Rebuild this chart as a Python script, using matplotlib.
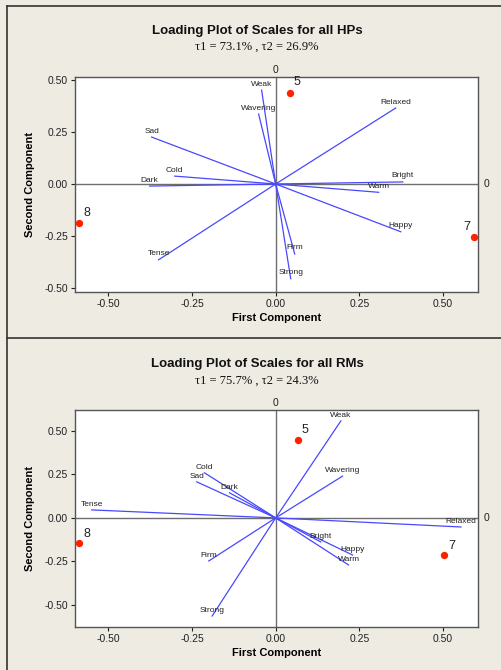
import matplotlib
matplotlib.use('Agg')
import matplotlib.pyplot as plt
from matplotlib.lines import Line2D

# scale names shared by both loading plots
scales = ['Weak', 'Wavering', 'Sad', 'Relaxed', 'Cold', 'Dark',
          'Bright', 'Warm', 'Happy', 'Tense', 'Firm', 'Strong']

# HPs loadings (first / second component)
hp_pc1 = [-0.042, -0.051, -0.371, 0.359, -0.302, -0.377,
          0.380, 0.308, 0.374, -0.350, 0.057, 0.045]
hp_pc2 = [0.452, 0.337, 0.226, 0.366, 0.038, -0.010,
          0.010, -0.040, -0.230, -0.365, -0.337, -0.456]

# RMs loadings
rm_pc1 = [0.195, 0.200, -0.236, 0.554, -0.213, -0.138,
          0.135, 0.218, 0.230, -0.550, -0.200, -0.190]
rm_pc2 = [0.557, 0.240, 0.207, -0.052, 0.259, 0.144,
          -0.138, -0.270, -0.213, 0.046, -0.247, -0.563]

# labelled observation points
point_labels = ['5', '8', '7']
hp_pt_x = [0.042, -0.587, 0.593]
hp_pt_y = [0.440, -0.190, -0.255]
rm_pt_x = [0.066, -0.587, 0.503]
rm_pt_y = [0.448, -0.144, -0.213]

titles = ['Loading Plot of Scales for all HPs', 'Loading Plot of Scales for all RMs']
subtitles = ['\u03c41 = 73.1% , \u03c42 = 26.9%', '\u03c41 = 75.7% , \u03c42 = 24.3%']
ticks = [-0.50, -0.25, 0.00, 0.25, 0.50]
tick_labels = ['-0.50', '-0.25', '0.00', '0.25', '0.50']

BG = '#eeebe3'
LINE_BLUE = '#4848ff'
DOT_RED = '#ff2200'
SANS = 'Liberation Sans'


def draw_panel(ax, pc1, pc2, pt_x, pt_y, ylim, label_side):
    ax.set_facecolor('white')
    ax.axhline(0, color='#6e6e6e', lw=1.0, zorder=1)
    ax.axvline(0, color='#6e6e6e', lw=1.0, zorder=1)

    for name, x, y in zip(scales, pc1, pc2):
        ax.plot([0, x], [0, y], color=LINE_BLUE, lw=0.9, zorder=2)
        ax.text(x, y + 0.012, name, ha='center', va='bottom', fontsize=6,
                family=SANS, color='#222222', zorder=3)

    ax.scatter(pt_x, pt_y, s=28, color=DOT_RED, zorder=4, linewidths=0)
    for lab, x, y, side in zip(point_labels, pt_x, pt_y, label_side):
        dx = 0.012 if side == 'r' else -0.012
        ax.text(x + dx, y + 0.02, lab, ha='left' if side == 'r' else 'right',
                va='bottom', fontsize=9, family=SANS, color='#222222', zorder=4)

    ax.set_xlim(-0.60, 0.605)
    ax.set_ylim(*ylim)
    ax.set_xticks(ticks)
    ax.set_xticklabels(tick_labels)
    ax.set_yticks(ticks)
    ax.set_yticklabels(tick_labels)
    ax.tick_params(labelsize=7.5, length=3, width=0.8, colors='#222222', pad=2)
    for lab in ax.get_xticklabels() + ax.get_yticklabels():
        lab.set_family(SANS)
    for sp in ax.spines.values():
        sp.set_color('#555555')
        sp.set_linewidth(1.0)
    ax.set_xlabel('First Component', fontsize=8, fontweight='bold', family=SANS, labelpad=3)
    ax.set_ylabel('Second Component', fontsize=8, fontweight='bold', family=SANS, labelpad=7)

    # reference line labels
    ax.text(0, 1.01, '0', transform=ax.get_xaxis_transform(), ha='center', va='bottom',
            fontsize=7.5, family=SANS, color='#222222')
    ax.text(1.015, 0, '0', transform=ax.get_yaxis_transform(), ha='left', va='center',
            fontsize=7.5, family=SANS, color='#222222')


fig = plt.figure(figsize=(5.02, 6.70), dpi=100, facecolor=BG)

ax1 = fig.add_axes([0.1494, 0.5642, 0.8028, 0.3208])
ax2 = fig.add_axes([0.1494, 0.0642, 0.8028, 0.3240])

draw_panel(ax1, hp_pc1, hp_pc2, hp_pt_x, hp_pt_y, (-0.52, 0.515), ['r', 'r', 'l'])
draw_panel(ax2, rm_pc1, rm_pc2, rm_pt_x, rm_pt_y, (-0.626, 0.62), ['r', 'r', 'r'])

title_y = [0.953, 0.456]
sub_y = [0.930, 0.432]
for t, s, ty, sy in zip(titles, subtitles, title_y, sub_y):
    fig.text(0.512, ty, t, ha='center', va='center', fontsize=9.5, fontweight='bold',
             family=SANS, color='#111111')
    fig.text(0.512, sy, s, ha='center', va='center', fontsize=9, family='Liberation Serif',
             color='#111111')

# panel frame lines
fig.add_artist(Line2D([7 / 502, 7 / 502], [0, 1 - 6 / 670], color='#333333', lw=1.2))
fig.add_artist(Line2D([7 / 502, 1], [1 - 6 / 670, 1 - 6 / 670], color='#333333', lw=1.2))
fig.add_artist(Line2D([7 / 502, 1], [1 - 338 / 670, 1 - 338 / 670], color='#333333', lw=1.2))

fig.savefig('out.png', dpi=100, facecolor=BG)
